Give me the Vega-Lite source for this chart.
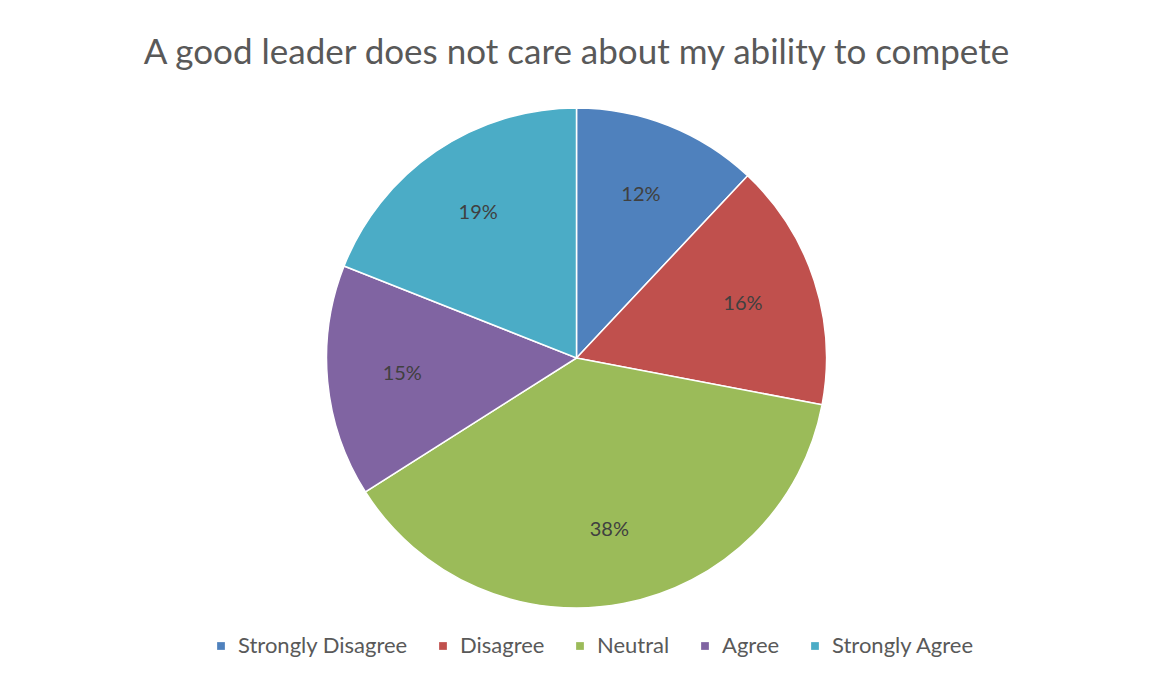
{
  "$schema": "https://vega.github.io/schema/vega-lite/v6.json",
  "autosize": {"type": "fit", "contains": "padding"},
  "width": 1153,
  "height": 681,
  "padding": {"top": 36, "bottom": 60, "left": 10, "right": 10},
  "background": "white",
  "title": {
    "text": "A good leader does not care about my ability to compete",
    "font": "Lato",
    "fontSize": 35,
    "fontWeight": "normal",
    "color": "#595959",
    "offset": 24
  },
  "data": {
    "values": [
      {"response": "Strongly Disagree", "share": 0.12, "order": 1},
      {"response": "Disagree", "share": 0.16, "order": 2},
      {"response": "Neutral", "share": 0.38, "order": 3},
      {"response": "Agree", "share": 0.15, "order": 4},
      {"response": "Strongly Agree", "share": 0.19, "order": 5}
    ]
  },
  "encoding": {
    "theta": {"field": "share", "type": "quantitative", "stack": true},
    "order": {"field": "order", "type": "quantitative"},
    "color": {
      "field": "response",
      "type": "nominal",
      "sort": ["Strongly Disagree", "Disagree", "Neutral", "Agree", "Strongly Agree"],
      "scale": {
        "domain": ["Strongly Disagree", "Disagree", "Neutral", "Agree", "Strongly Agree"],
        "range": ["#4F81BD", "#C0504D", "#9BBB59", "#8064A2", "#4BACC6"]
      },
      "legend": {
        "title": null,
        "orient": "none",
        "legendX": 200,
        "legendY": 540,
        "direction": "horizontal",
        "symbolType": "square",
        "symbolSize": 60,
        "symbolStrokeWidth": 0,
        "labelFont": "Lato",
        "labelFontSize": 22,
        "labelLimit": 400,
        "labelColor": "#595959",
        "columnPadding": 24,
        "labelOffset": 6
      }
    }
  },
  "layer": [
    {
      "mark": {"type": "arc", "outerRadius": 250, "stroke": "white", "strokeWidth": 1.5}
    },
    {
      "mark": {"type": "text", "radius": 175, "font": "Lato", "fontSize": 20},
      "encoding": {
        "text": {"field": "share", "type": "quantitative", "format": ".0%"},
        "color": {"value": "#404040"}
      }
    }
  ]
}
